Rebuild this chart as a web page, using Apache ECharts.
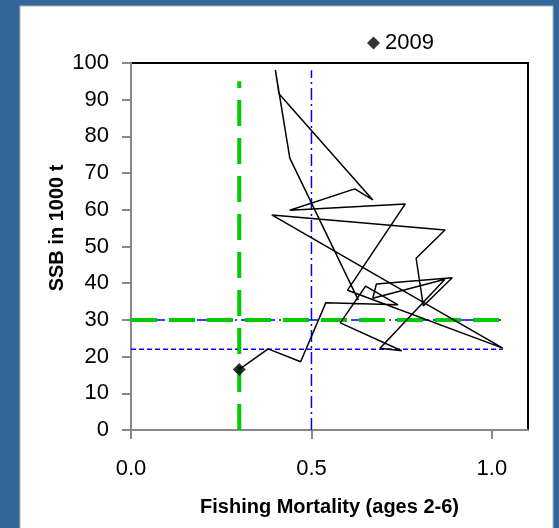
<!DOCTYPE html>
<html>
<head>
<meta charset="utf-8">
<script src="https://cdn.jsdelivr.net/npm/echarts@6/dist/echarts.min.js"></script>
<style>
  html, body { margin: 0; padding: 0; background: #336699; }
  #chart { width: 559px; height: 528px; }
</style>
</head>
<body>
<div id="chart"></div>
<script>
// stock trajectory, one point per year (last one = 2009)
var fishingMortality = [0.63, 0.44, 0.40, 0.41, 0.67, 0.62, 0.44, 0.76, 0.60, 1.03, 0.39, 0.87, 0.79, 0.81,
    0.89, 0.68, 0.67, 0.87, 0.69, 0.75, 0.58, 0.65, 0.74, 0.54, 0.47, 0.38, 0.30];
var ssb = [35.4, 74.1, 98.1, 91.6, 62.7, 65.7, 59.9, 61.6, 38.1, 22.3, 58.6, 54.5, 46.8, 33.8,
    41.5, 39.8, 35.9, 41.1, 22.3, 21.6, 29.2, 39.2, 34.1, 34.7, 18.6, 22.1, 16.5];
var lastYear = '2009';

// reference points
var fpa = 0.3, flim = 0.5;
var bpa = 30, blim = 22;
var fpaTop = 95, flimTop = 98;
var bpaEnd = 1.035, blimEnd = 1.03;

var xTicks = [0, 0.5, 1.0];

var chart = echarts.init(document.getElementById('chart'));

var trajectory = [];
for (var i = 0; i < fishingMortality.length; i++) {
    trajectory.push([fishingMortality[i], ssb[i]]);
}
var last = trajectory[trajectory.length - 1];

function refLine(name, data, color, width, dash, z) {
    return {
        name: name, type: 'line', data: data, symbol: 'none', silent: true, z: z,
        lineStyle: {color: color, width: width, type: dash, cap: 'butt'}
    };
}

var option = {
    animation: false,
    textStyle: {fontFamily: 'Liberation Sans, Arial, sans-serif'},
    graphic: [
        {type: 'rect', z: -10, shape: {x: 20, y: 6, width: 533, height: 530},
            style: {fill: '#ffffff', stroke: '#b4b4b4', lineWidth: 1}},
        {type: 'text', x: 57, y: 228, rotation: Math.PI / 2,
            style: {text: 'SSB in 1000 t', fontSize: 20, fontWeight: 'bold', fill: '#000',
                align: 'center', verticalAlign: 'middle', fontFamily: 'Liberation Sans, Arial'}}
    ],
    legend: {
        data: [lastYear], left: 362, top: 27, icon: 'diamond',
        itemWidth: 13, itemHeight: 13, itemGap: 5,
        textStyle: {fontSize: 22, color: '#000'}
    },
    grid: {left: 131, right: 31, top: 63, bottom: 98, show: true,
        borderColor: '#000', borderWidth: 2, backgroundColor: '#fff'},
    xAxis: {
        type: 'value', min: 0, max: 1.1,
        name: 'Fishing Mortality (ages 2-6)', nameLocation: 'middle', nameGap: 67,
        nameTextStyle: {fontSize: 20, fontWeight: 'bold', color: '#000'},
        axisLine: {lineStyle: {color: '#888', width: 2}},
        axisTick: {length: 9, lineStyle: {color: '#888', width: 2}, customValues: xTicks},
        axisLabel: {fontSize: 22, color: '#000', margin: 28, customValues: xTicks,
            formatter: function (v) { return v.toFixed(1); }},
        splitLine: {show: false}
    },
    yAxis: {
        type: 'value', min: 0, max: 100, interval: 10,
        axisLine: {show: true, lineStyle: {color: '#888', width: 2}},
        axisTick: {show: true, length: 9, lineStyle: {color: '#888', width: 2}},
        axisLabel: {fontSize: 22, color: '#000', margin: 22},
        splitLine: {show: false}
    },
    series: [
        refLine('Blim', [[0, blim], [blimEnd, blim]], '#0000ff', 1.5, [5, 3], 2),
        refLine('Bref', [[0, bpa], [bpaEnd, bpa]], '#0000ff', 1.5, [12, 4, 2, 4], 2),
        refLine('Flim', [[flim, 0], [flim, flimTop]], '#0000ff', 1.5, [12, 4, 2, 4], 2),
        refLine('Fpa', [[fpa, 0], [fpa, fpaTop]], '#00cc00', 4, [26, 12], 3),
        refLine('Bpa', [[0, bpa], [bpaEnd, bpa]], '#00cc00', 4, [26, 12], 3),
        {
            name: 'trajectory', type: 'line', data: trajectory, symbol: 'none', z: 4,
            lineStyle: {color: '#000', width: 1.5}
        },
        {
            name: lastYear, type: 'scatter', data: [last], symbol: 'diamond', symbolSize: 13, z: 5,
            itemStyle: {color: '#000'}
        }
    ]
};
chart.setOption(option);
</script>
</body>
</html>
